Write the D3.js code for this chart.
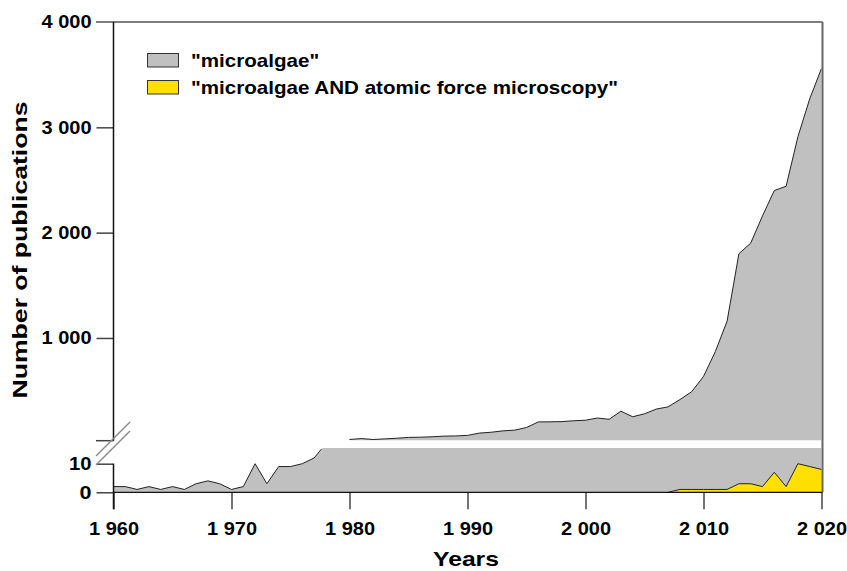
<!DOCTYPE html>
<html>
<head>
<meta charset="utf-8">
<script src="https://cdn.jsdelivr.net/npm/d3@7"></script>
<style>
  html, body { margin: 0; padding: 0; background: #fff; }
  svg { display: block; }
  text { font-family: "Liberation Sans", Arial, sans-serif; font-weight: bold; fill: #000; }
</style>
</head>
<body>
<svg id="chart" width="847" height="571"></svg>
<script>
// ---- data ----
const years = d3.range(1960, 2021);
const microalgae = [
  2, 2, 1, 2, 1, 2, 1, 3, 4, 3,            // 1960-1969
  1, 2, 10, 3, 9, 9, 10, 12, 17, 24,       // 1970-1979
  36, 45, 36, 42, 48, 56, 58, 62, 68, 70,  // 1980-1989
  75, 97, 105, 118, 125, 150, 203, 204, 206, 214, // 1990-1999
  219, 240, 228, 305, 252, 280, 325, 346, 415, 490, // 2000-2009
  635, 870, 1160, 1800, 1900, 2160, 2400, 2440, 2910, 3270, // 2010-2019
  3560                                     // 2020
];
const afmYears = d3.range(2007, 2021);
const afmValues = [0, 1, 1, 1, 1, 1, 3, 3, 2, 7, 2, 10, 9, 8];
const upperStartYear = 1980;
const upperTicks = [1000, 2000, 3000, 4000];
const lowerTicks = [0, 10];
const xTicks = [1960, 1970, 1980, 1990, 2000, 2010, 2020];
const legendLabels = ['"microalgae"', '"microalgae AND atomic force microscopy"'];
const fmt = v => v >= 1000 ? (Math.floor(v / 1000) + " " + String(v % 1000).padStart(3, "0")) : String(v);

// ---- layout ----
const xLeft = 113.5, xRight = 821.5;
const yTop = 22, upperBottom = 440.7, lowerTop = 448, lowerZero = 492.3;
const GRAY = "#c0c0c0", YELLOW = "#ffe000", LINE = "#222";

const svg = d3.select("#chart");
const x = d3.scaleLinear().domain([1960, 2020]).range([xLeft, xRight]);
const yU = d3.scaleLinear().domain([0, 4000]).range([443.3, yTop]);
const yL = d3.scaleLinear().domain([0, 10]).range([lowerZero, 463.7]);
const lowerMax = yL.invert(lowerTop);

const defs = svg.append("defs");
defs.append("clipPath").attr("id", "clipU").append("rect")
  .attr("x", xLeft).attr("y", yTop).attr("width", xRight - xLeft).attr("height", upperBottom - 0.5 - yTop);
defs.append("clipPath").attr("id", "clipL").append("rect")
  .attr("x", xLeft).attr("y", lowerTop).attr("width", xRight - xLeft).attr("height", lowerZero - lowerTop);
defs.append("clipPath").attr("id", "clipLline").append("rect")
  .attr("x", xLeft - 2).attr("y", lowerTop + 0.7).attr("width", xRight - xLeft + 4).attr("height", lowerZero - lowerTop);

const all = years.map((yr, i) => ({ yr, v: microalgae[i] }));
const upperData = all.filter(d => d.yr >= upperStartYear);
const lowerLineData = all.filter(d => d.yr <= 1978);
const afm = afmYears.map((yr, i) => ({ yr, v: afmValues[i] }));

// lower segment
const gL = svg.append("g");
gL.append("path").datum(all)
  .attr("clip-path", "url(#clipL)")
  .attr("fill", GRAY)
  .attr("d", d3.area().x(d => x(d.yr)).y0(lowerZero).y1(d => yL(Math.min(d.v, lowerMax + 1))));
gL.append("path").datum(lowerLineData)
  .attr("clip-path", "url(#clipLline)")
  .attr("fill", "none").attr("stroke", LINE).attr("stroke-width", 1)
  .attr("d", d3.line().x(d => x(d.yr)).y(d => yL(d.v)));
gL.append("path").datum(afm)
  .attr("fill", YELLOW)
  .attr("d", d3.area().x(d => x(d.yr)).y0(lowerZero).y1(d => yL(d.v)));
gL.append("path").datum(afm)
  .attr("fill", "none").attr("stroke", LINE).attr("stroke-width", 1)
  .attr("d", d3.line().x(d => x(d.yr)).y(d => yL(d.v)));

// upper segment
const gU = svg.append("g").attr("clip-path", "url(#clipU)");
gU.append("path").datum(upperData)
  .attr("fill", GRAY)
  .attr("d", d3.area().x(d => x(d.yr)).y0(upperBottom + 2).y1(d => yU(d.v)));
gU.append("path").datum(upperData)
  .attr("fill", "none").attr("stroke", LINE).attr("stroke-width", 1)
  .attr("d", d3.line().x(d => x(d.yr)).y(d => yU(d.v)));

// frame: top and right
svg.append("line").attr("x1", 96).attr("x2", xRight + 1).attr("y1", yTop).attr("y2", yTop)
  .attr("stroke", "#555").attr("stroke-width", 1.5);
svg.append("line").attr("x1", xRight + 1).attr("x2", xRight + 1).attr("y1", yTop).attr("y2", lowerZero)
  .attr("stroke", "#666").attr("stroke-width", 2);

// axes
const tickLen = 17;
function styleAxis(g, widths) {
  g.select(".domain").remove();
  g.selectAll(".tick line").attr("stroke", "#444").attr("stroke-width", 1.5);
  g.selectAll(".tick text")
    .style("font-size", "18px")
    .attr("textLength", d => widths(d))
    .attr("lengthAdjust", "spacingAndGlyphs");
}
const axU = svg.append("g").attr("transform", `translate(${xLeft},0)`)
  .call(d3.axisLeft(yU).tickValues(upperTicks).tickSize(tickLen).tickPadding(5).tickFormat(fmt));
styleAxis(axU, () => 50);
axU.selectAll(".tick").filter(d => d === 4000).select("line").remove();

const axL = svg.append("g").attr("transform", `translate(${xLeft},0)`)
  .call(d3.axisLeft(yL).tickValues(lowerTicks).tickSize(tickLen).tickPadding(5).tickFormat(fmt));
styleAxis(axL, d => d === 0 ? 12 : 22.5);

const axX = svg.append("g").attr("transform", `translate(0,${lowerZero})`)
  .call(d3.axisBottom(x).tickValues(xTicks).tickSize(tickLen).tickPadding(13).tickFormat(fmt));
styleAxis(axX, () => 50);

// break tick (upper segment bottom)
svg.append("line").attr("x1", 96).attr("x2", xLeft).attr("y1", upperBottom).attr("y2", upperBottom)
  .attr("stroke", "#444").attr("stroke-width", 1.5);

// axis lines
svg.append("line").attr("x1", xLeft).attr("x2", xLeft).attr("y1", yTop).attr("y2", upperBottom)
  .attr("stroke", "#111").attr("stroke-width", 1.5);
svg.append("line").attr("x1", xLeft).attr("x2", xLeft).attr("y1", 463.7).attr("y2", lowerZero + tickLen)
  .attr("stroke", "#111").attr("stroke-width", 1.5);
svg.append("line").attr("x1", xLeft).attr("x2", xRight + 1).attr("y1", lowerZero).attr("y2", lowerZero)
  .attr("stroke", "#111").attr("stroke-width", 1.2);

// break marks
[[96, 456, 130, 422], [96, 465, 130, 431]].forEach(([a, b, c, e]) => {
  svg.append("line").attr("x1", a).attr("y1", b).attr("x2", c).attr("y2", e)
    .attr("stroke", "#8a8a8a").attr("stroke-width", 1.5);
});

// legend
const legColors = [GRAY, YELLOW];
const legendTexts = legendLabels.map((lab, i) => {
  const y0 = 53.5 + i * 27;
  svg.append("rect").attr("x", 147.5).attr("y", y0).attr("width", 31).attr("height", 13.5)
    .attr("fill", legColors[i]).attr("stroke", "#333").attr("stroke-width", 1);
  return svg.append("text").attr("x", 191).attr("y", y0 + 13.3).text(lab)
    .style("font-size", "18.5px");
});
// same horizontal scale for both entries, fitted to the long entry's width
const natLong = legendTexts[1].node().getComputedTextLength();
const k = 427 / natLong;
legendTexts.forEach(t => {
  const n = t.node().getComputedTextLength();
  t.attr("textLength", n * k).attr("lengthAdjust", "spacingAndGlyphs");
});

// axis titles
svg.append("text").attr("x", 466).attr("y", 566).attr("text-anchor", "middle")
  .style("font-size", "21px").attr("textLength", 66).attr("lengthAdjust", "spacingAndGlyphs")
  .text("Years");
svg.append("text").attr("transform", "translate(26.7,250) rotate(-90)").attr("text-anchor", "middle")
  .style("font-size", "21px").attr("textLength", 297).attr("lengthAdjust", "spacingAndGlyphs")
  .text("Number of publications");
</script>
</body>
</html>
